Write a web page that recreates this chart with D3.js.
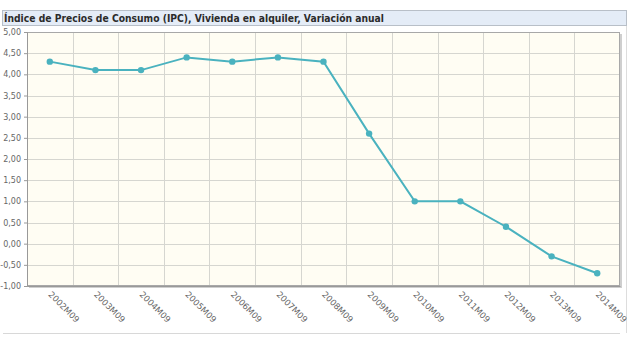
<!DOCTYPE html>
<html>
<head>
<meta charset="utf-8">
<script src="https://cdn.jsdelivr.net/npm/d3@7"></script>
<style>
  body { margin: 0; background: #fff; }
  text { font-family: "DejaVu Sans", Verdana, sans-serif; }
</style>
</head>
<body>
<div id="chart"></div>
<script>
document.addEventListener("DOMContentLoaded", function() {
  // Data
  const periods = ["2002M09", "2003M09", "2004M09", "2005M09", "2006M09", "2007M09", "2008M09",
                   "2009M09", "2010M09", "2011M09", "2012M09", "2013M09", "2014M09"];
  const values = [4.3, 4.1, 4.1, 4.4, 4.3, 4.4, 4.3, 2.6, 1.0, 1.0, 0.4, -0.3, -0.7];
  const yTicks = [-1, -0.5, 0, 0.5, 1, 1.5, 2, 2.5, 3, 3.5, 4, 4.5, 5];
  const title = "Índice de Precios de Consumo (IPC), Vivienda en alquiler, Variación anual";

  const width = 630;
  const height = 350;
  const plot = { left: 27, right: 620, top: 32, bottom: 286 };

  const svg = d3.select("#chart").append("svg")
      .attr("width", width)
      .attr("height", height);

  // Title bar
  svg.append("rect")
      .attr("x", 2.5).attr("y", 10.5)
      .attr("width", 624).attr("height", 15)
      .attr("fill", "#e4ecf7")
      .attr("stroke", "#b8bfc8");
  svg.append("text")
      .attr("x", 4).attr("y", 22)
      .attr("font-size", 10.5)
      .attr("font-weight", "bold")
      .attr("fill", "#2b2b2b")
      .attr("textLength", 380)
      .attr("lengthAdjust", "spacingAndGlyphs")
      .text(title);

  // Outer frame lines (right and bottom)
  svg.append("line")
      .attr("x1", 626.5).attr("x2", 626.5).attr("y1", 26).attr("y2", 333)
      .attr("stroke", "#dddddd");
  svg.append("line")
      .attr("x1", 3).attr("x2", 620).attr("y1", 333.5).attr("y2", 333.5)
      .attr("stroke", "#d8d8d8");

  // Scales
  const x = d3.scaleBand().domain(periods).range([plot.left, plot.right]);
  const y = d3.scaleLinear().domain([-1, 5]).range([plot.bottom, plot.top]);

  // Shadow and background
  svg.append("rect")
      .attr("x", plot.left + 2).attr("y", plot.top + 2)
      .attr("width", plot.right - plot.left).attr("height", plot.bottom - plot.top)
      .attr("fill", "#cfcfcf");
  svg.append("rect")
      .attr("x", plot.left).attr("y", plot.top)
      .attr("width", plot.right - plot.left).attr("height", plot.bottom - plot.top)
      .attr("fill", "#fffdf3");

  // Horizontal gridlines
  svg.append("g").selectAll("line")
    .data(yTicks)
    .join("line")
      .attr("x1", plot.left).attr("x2", plot.right)
      .attr("y1", d => Math.round(y(d)) + 0.5)
      .attr("y2", d => Math.round(y(d)) + 0.5)
      .attr("stroke", "#d6d6d0");

  // Vertical gridlines between bands
  svg.append("g").selectAll("line")
    .data(periods.slice(1))
    .join("line")
      .attr("x1", d => Math.round(x(d)) + 0.5)
      .attr("x2", d => Math.round(x(d)) + 0.5)
      .attr("y1", plot.top).attr("y2", plot.bottom)
      .attr("stroke", "#d6d6d0");

  // Plot border
  svg.append("rect")
      .attr("x", plot.left + 0.5).attr("y", plot.top + 0.5)
      .attr("width", plot.right - plot.left - 1).attr("height", plot.bottom - plot.top - 1)
      .attr("fill", "none")
      .attr("stroke", "#a8a8a8");

  // Y axis
  const yAxis = svg.append("g")
      .attr("transform", `translate(${plot.left},0)`)
      .call(d3.axisLeft(y).tickValues(yTicks).tickSize(3).tickPadding(3)
        .tickFormat(d => d3.format(".2f")(d).replace(".", ",").replace("−", "-")));
  yAxis.select(".domain").attr("stroke", "#999");
  yAxis.selectAll(".tick line").attr("stroke", "#999");
  yAxis.selectAll("text")
      .attr("font-size", 8)
      .attr("fill", "#666")
      .style("font-family", "DejaVu Sans, sans-serif");

  // X axis
  const xAxis = svg.append("g")
      .attr("transform", `translate(0,${plot.bottom})`)
      .call(d3.axisBottom(x).tickSize(0).tickPadding(0));
  xAxis.select(".domain").attr("stroke", "#999");
  xAxis.selectAll("text")
      .attr("font-size", 8.5)
      .attr("fill", "#666")
      .attr("text-anchor", "start")
      .attr("dy", 0)
      .attr("transform", "translate(-2,9) rotate(45)")
      .style("font-family", "DejaVu Sans, sans-serif");

  // Line
  const line = d3.line()
      .x((d, i) => x(periods[i]) + x.bandwidth() / 2)
      .y(d => y(d));

  svg.append("path")
      .datum(values)
      .attr("d", line)
      .attr("fill", "none")
      .attr("stroke", "#4ab2bf")
      .attr("stroke-width", 2);

  svg.append("g").selectAll("circle")
    .data(values)
    .join("circle")
      .attr("cx", (d, i) => x(periods[i]) + x.bandwidth() / 2)
      .attr("cy", d => y(d))
      .attr("r", 3.2)
      .attr("fill", "#4ab2bf");
});
</script>
</body>
</html>
